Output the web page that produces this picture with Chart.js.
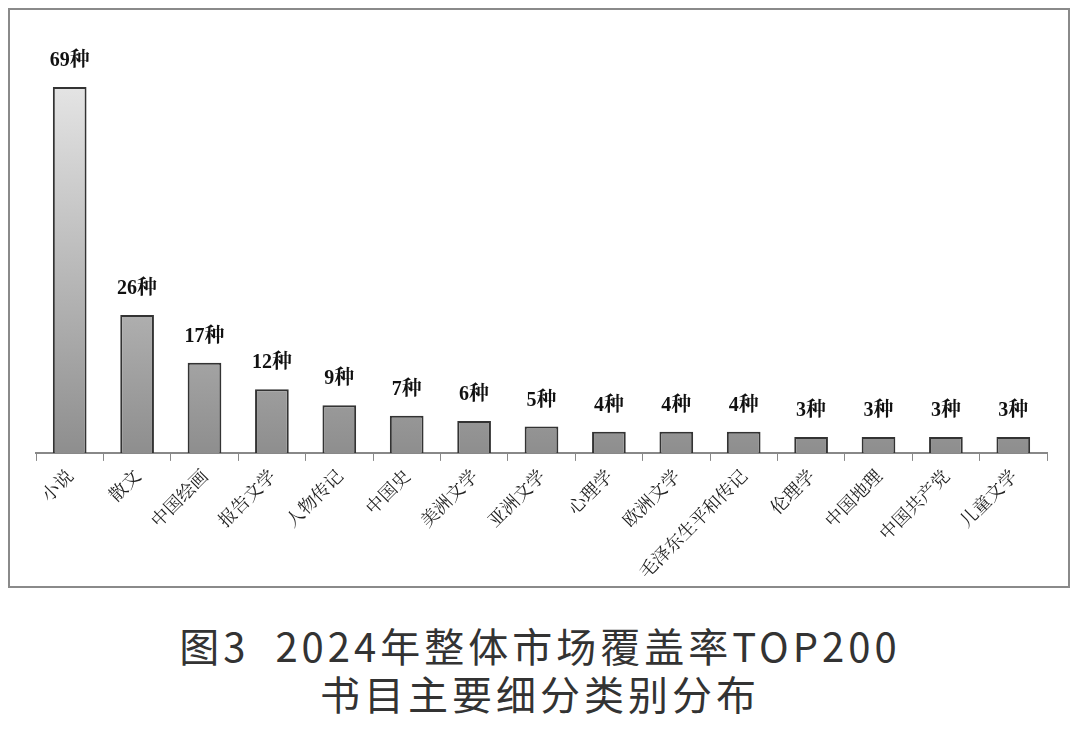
<!DOCTYPE html>
<html><head><meta charset="utf-8">
<script src="https://cdn.jsdelivr.net/npm/chart.js@4"></script>
<style>
html,body{margin:0;padding:0;background:#fff;width:1080px;height:733px;overflow:hidden}
#frame{position:absolute;left:8px;top:8px;width:1062px;height:580px;border:2px solid #8a8a8a;box-sizing:border-box}
#wrap{position:absolute;left:10px;top:10px;width:1058px;height:576px}
.t{position:absolute;left:0;width:1080px;text-align:center;color:#333;font-family:"Noto Sans CJK SC";font-size:40px;letter-spacing:4px}
</style></head><body>
<div id="frame"></div>
<div id="wrap"><canvas id="c" width="1058" height="576"></canvas></div>
<div class="t" style="top:616px">图3&nbsp; 2024年整体市场覆盖率TOP200</div>
<div class="t" style="top:664px">书目主要细分类别分布</div>
<script>
const categories=["小说","散文","中国绘画","报告文学","人物传记","中国史","美洲文学","亚洲文学","心理学","欧洲文学","毛泽东生平和传记","伦理学","中国地理","中国共产党","儿童文学"];
const values=[69,26,17,12,9,7,6,5,4,4,4,3,3,3,3];
const unit="种";
const labelPlugin={id:'vl',afterDatasetsDraw(ch){const c=ch.ctx;const m=ch.getDatasetMeta(0);c.save();c.fillStyle='#111';c.font='bold 20px "Liberation Serif","Noto Serif CJK SC","Noto Sans CJK SC"';c.textAlign='center';c.textBaseline='bottom';
m.data.forEach((b,i)=>{c.fillText(values[i]+unit,b.x,b.y-16);});c.restore();}};
new Chart(document.getElementById('c'),{type:'bar',
data:{labels:categories,datasets:[{data:values,
backgroundColor:(ctx)=>{const a=ctx.chart.chartArea;if(!a)return '#bbb';const g=ctx.chart.ctx.createLinearGradient(0,a.top,0,a.bottom);g.addColorStop(0,'#e4e4e4');g.addColorStop(1,'#8e8e8e');return g;},
borderColor:'#333',borderWidth:2,borderSkipped:'bottom',categoryPercentage:1,barPercentage:0.5}]},
options:{responsive:false,animation:false,devicePixelRatio:1,
layout:{padding:{top:77,left:26,right:21,bottom:0}},
plugins:{legend:{display:false},tooltip:{enabled:false}},
scales:{y:{display:false,min:0,max:69},
x:{grid:{display:true,drawOnChartArea:false,offset:true,tickLength:8,color:'#888'},border:{color:'#888',width:2},
ticks:{maxRotation:45,minRotation:45,color:'#222',font:{family:'"Noto Serif CJK SC","Noto Sans CJK SC"',size:18},padding:4}}}},
plugins:[labelPlugin]});
</script>
</body></html>
